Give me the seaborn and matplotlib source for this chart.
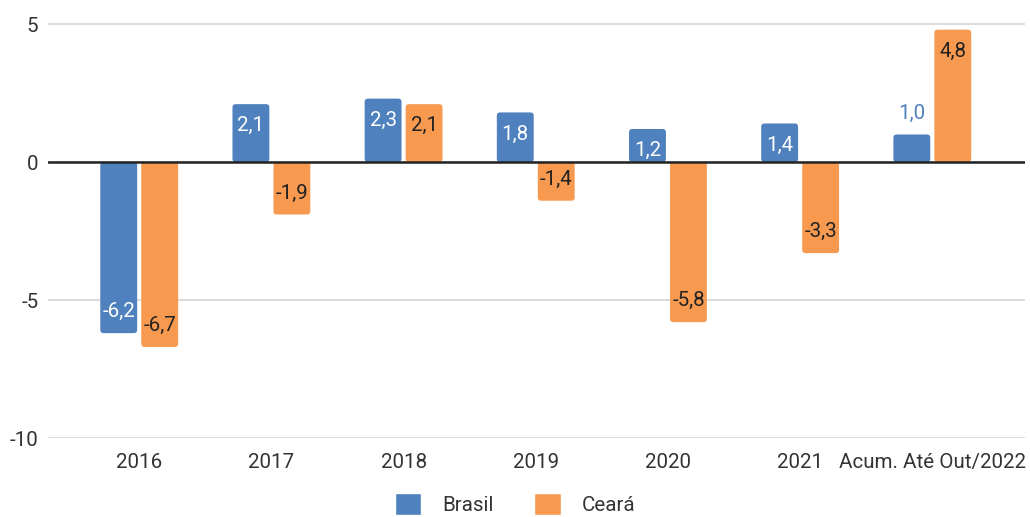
#importing the required libraries
import pandas as pd
import matplotlib
matplotlib.use("Agg")
import matplotlib.pyplot as plt
import seaborn as sns
from matplotlib.patches import FancyBboxPatch

# data
categorias = ["2016", "2017", "2018", "2019", "2020", "2021", "Acum. Até Out/2022"]
brasil = [-6.2, 2.1, 2.3, 1.8, 1.2, 1.4, 1.0]
ceara = [-6.7, -1.9, 2.1, -1.4, -5.8, -3.3, 4.8]
series = ["Brasil", "Ceará"]
cores = ["#4e81bd", "#f79a50"]

df = pd.DataFrame({
    "categoria": categorias * 2,
    "valor": brasil + ceara,
    "serie": [series[0]] * len(categorias) + [series[1]] * len(categorias),
})

sns.set_style("white")
plt.rcParams["font.family"] = ["Roboto", "DejaVu Sans"]

fig = plt.figure(figsize=(10.3, 5.17), dpi=100)
ax = fig.add_axes([0.0466, 0.1528, 0.9484, 0.8272])

sns.barplot(data=df, x="categoria", y="valor", hue="serie", palette=cores,
            width=0.62, gap=0.1, ax=ax, saturation=1)

ax.set_xlim(-0.69, 6.7)
ax.set_ylim(-10, 5.5)
ax.set_yticks([-10, -5, 0, 5])
ax.set_yticklabels(["-10", "-5", "0", "5"])
ax.set_xlabel("")
ax.set_ylabel("")
for s in ax.spines.values():
    s.set_visible(False)
ax.yaxis.grid(True, color="#d9d9d9", lw=1.3)
ax.set_axisbelow(True)
ax.tick_params(axis="both", length=0, labelsize=14.8, colors="#333333")
ax.tick_params(axis="y", pad=7)
ax.tick_params(axis="x", pad=11)
ax.axhline(0, color="#222222", lw=1.8, zorder=4)

# rounded bars + value labels
for cont, serie in zip(ax.containers, series):
    for bar in cont:
        bb = bar.get_bbox()
        x0, x1 = bb.x0, bb.x1
        y0, y1 = min(bb.y0, bb.y1), max(bb.y0, bb.y1)
        bar.set_visible(False)
        fb = FancyBboxPatch((x0, y0), x1 - x0, y1 - y0,
                            boxstyle="round,pad=0,rounding_size=0.025",
                            mutation_aspect=4.8, fc=bar.get_facecolor(),
                            ec="none", zorder=3)
        ax.add_patch(fb)
        v = y1 if y1 > 0 else y0
        txt = f"{v:.1f}".replace(".", ",")
        xc = (x0 + x1) / 2
        sign = 1 if v >= 0 else -1
        if abs(v) < 1.1:
            off = 15 * sign
            col = cores[0] if serie == "Brasil" else cores[1]
        else:
            off = -15.5 * sign
            col = "white" if serie == "Brasil" else "#222222"
        ax.annotate(txt, (xc, v), xytext=(0, off), textcoords="offset points",
                    ha="center", va="center", fontsize=14.8, color=col, zorder=5)

h, l = ax.get_legend_handles_labels()
ax.get_legend().remove()
fig.legend(h, l, loc="center", bbox_to_anchor=(0.5, 0.025), ncol=2,
           frameon=False, fontsize=14.8, handlelength=1.3, handleheight=1.3,
           columnspacing=2.0, handletextpad=1.0, labelcolor="#333333")

fig.savefig("out.png", dpi=100)
